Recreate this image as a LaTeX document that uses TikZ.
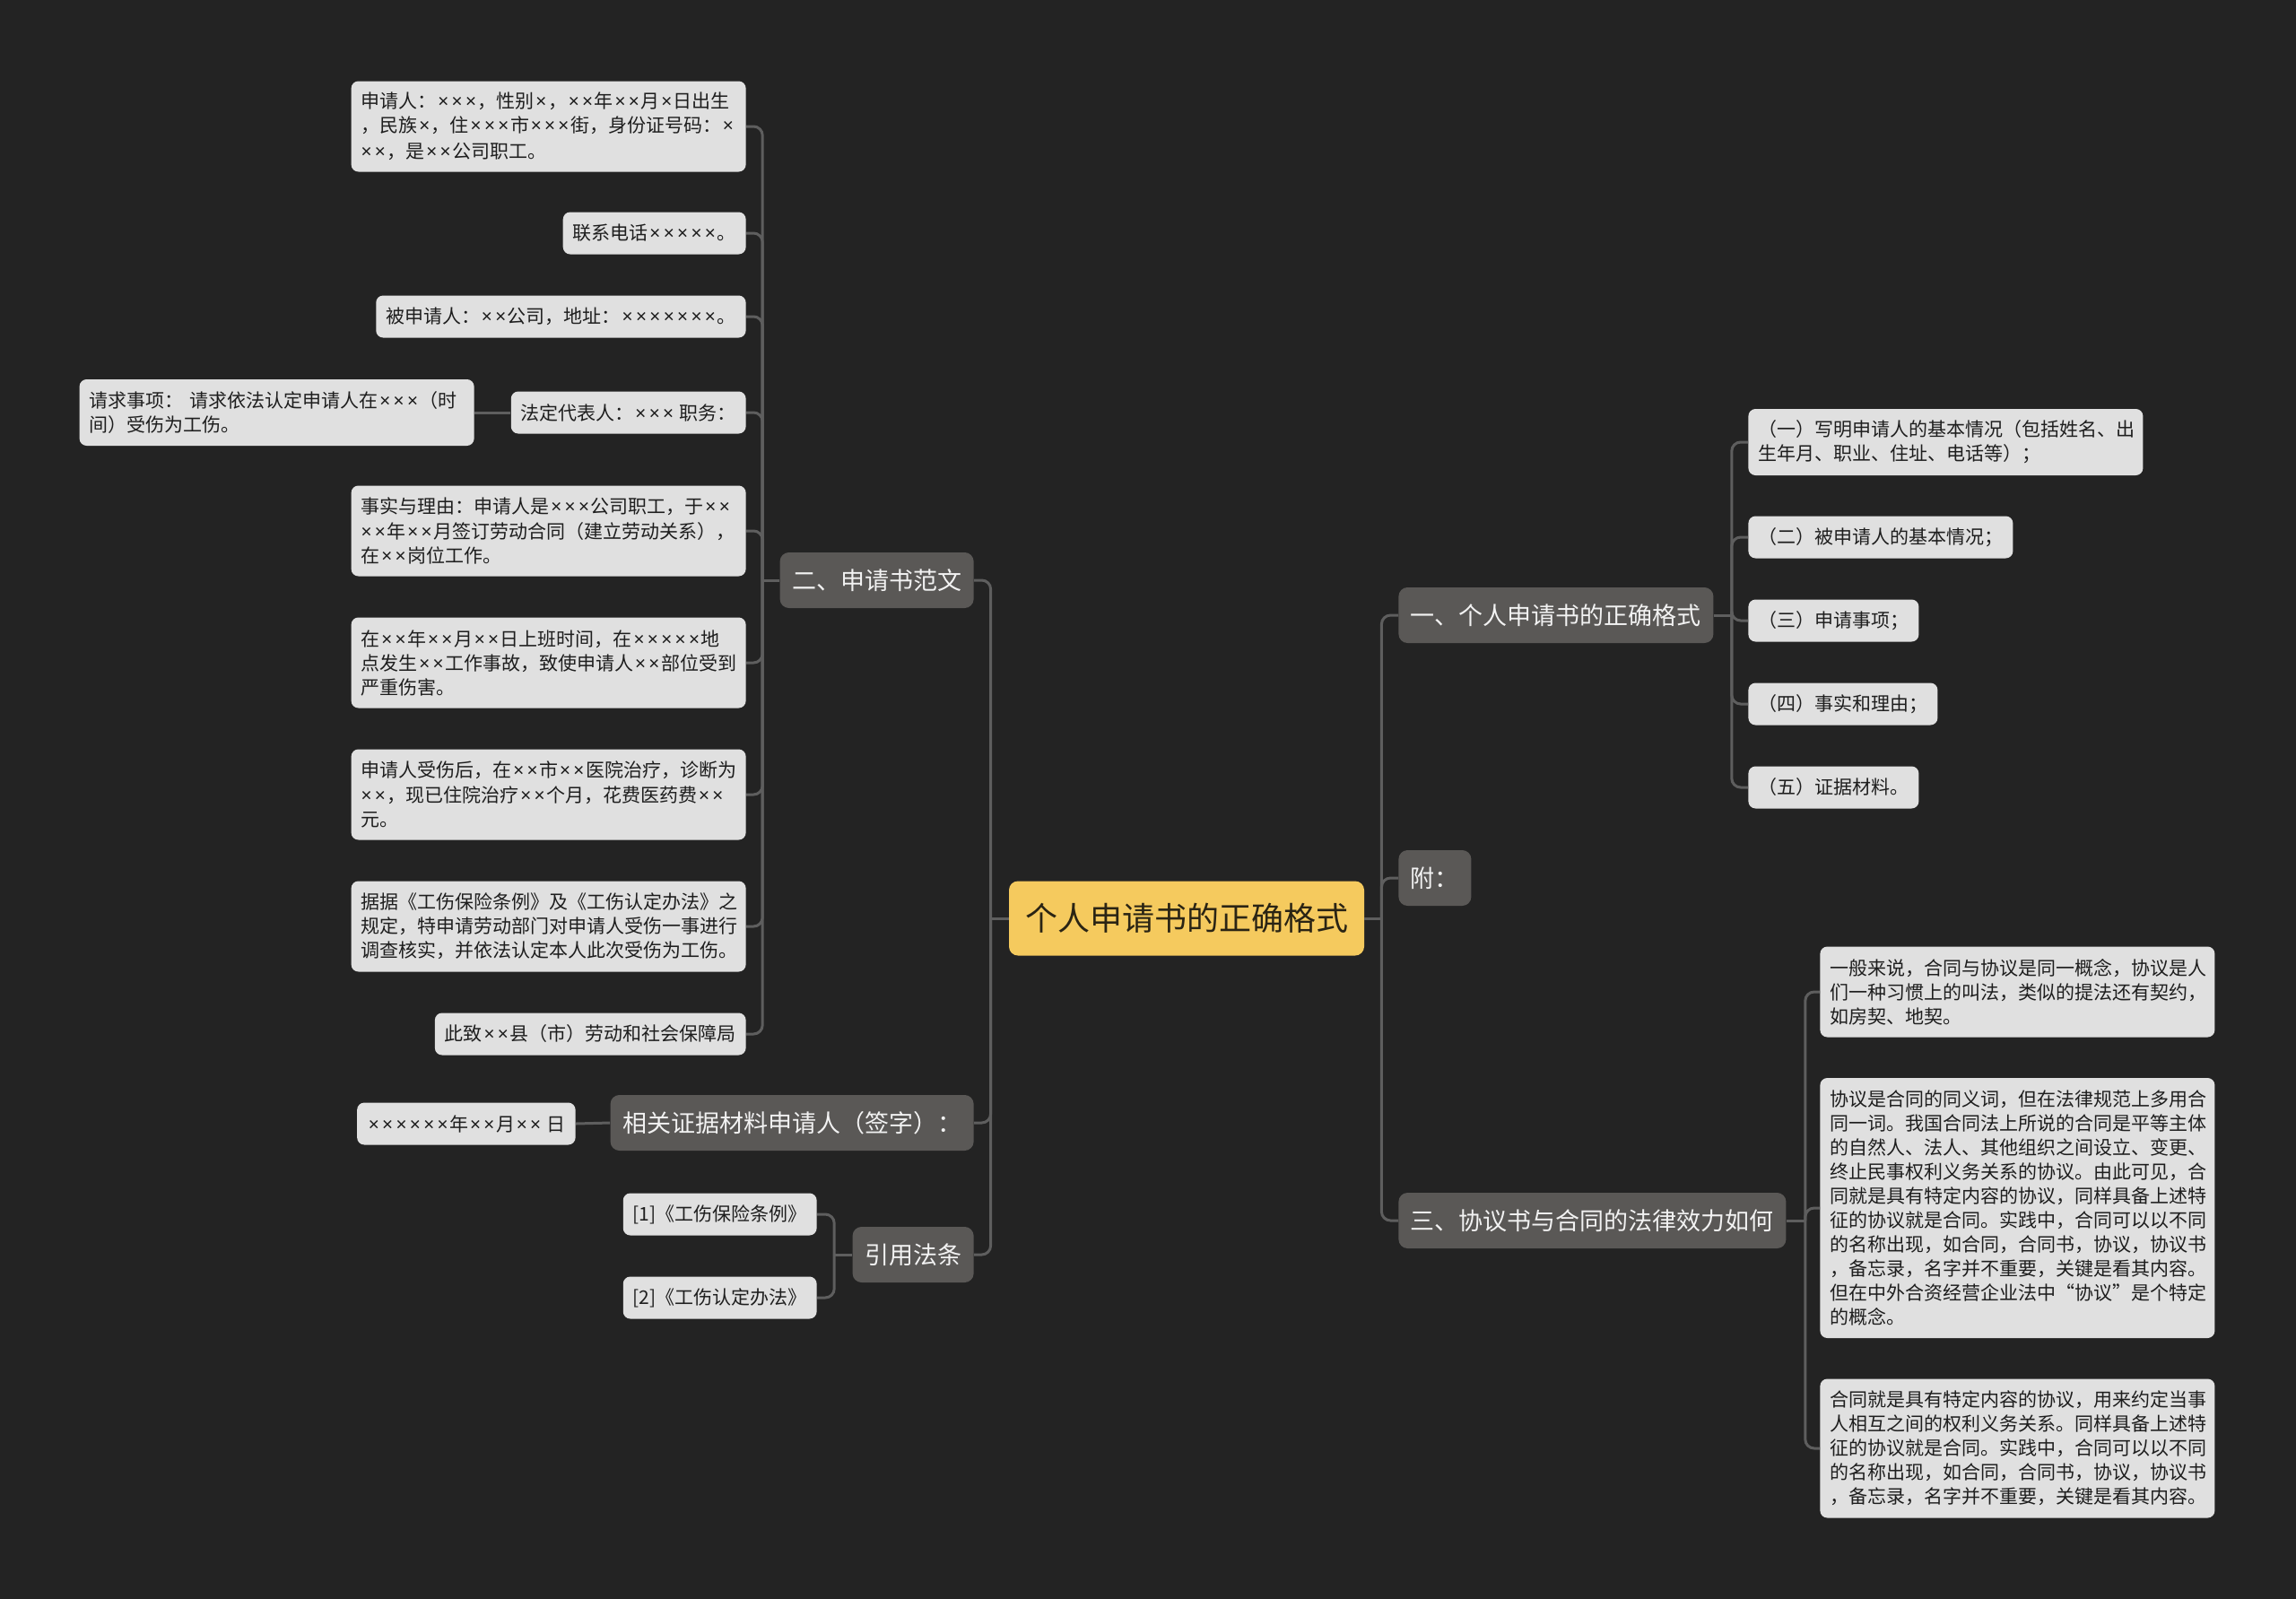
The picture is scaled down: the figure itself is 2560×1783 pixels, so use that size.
\documentclass[tikz,border=0pt]{standalone}
\usepackage{fontspec}
\setmainfont{Noto Sans CJK SC}
\newfontfamily\xfont{Noto Sans}
% narrow multiplication sign, as in the original
\catcode`\×=\active
\def×{{\xfont\kern.08em\char"00D7\kern.08em}}
\usepackage{tikz}
\usetikzlibrary{positioning}
\definecolor{bgdark}{HTML}{232323}
\definecolor{rootyel}{HTML}{F5CA5E}
\definecolor{roottxt}{HTML}{2A2414}
\definecolor{brgray}{HTML}{5A5856}
\definecolor{brtxt}{HTML}{F2F2F2}
\definecolor{leafgr}{HTML}{E0E0E0}
\definecolor{leaftxt}{HTML}{1E1E1E}
\definecolor{edgc}{HTML}{5E5E5E}
\tikzset{
  rootbox/.style = {fill=rootyel, text=roottxt, rounded corners=5pt,
                    minimum height=41.5pt, inner xsep=9pt,
                    font=\fontsize{18}{22}\selectfont},
  brbox/.style   = {fill=brgray, text=brtxt, rounded corners=5pt,
                    minimum height=31pt, inner xsep=6.75pt,
                    font=\fontsize{13.5}{16}\selectfont},
  leafbox/.style = {fill=leafgr, text=leaftxt, rounded corners=4pt,
                    minimum height=23.5pt, inner xsep=5.5pt, inner ysep=3pt,
                    font=\fontsize{10.5}{13.5}\selectfont},
  leafw/.style   = {leafbox, text width=209pt, align=left,
                    minimum height={23.5pt+(#1-1)*13.5pt}},
  edg/.style     = {draw=edgc, line width=1.5pt, rounded corners=5pt},
}

\begin{document}
\begin{tikzpicture}[x=0.5pt, y=-0.5pt]
  \fill[bgdark] (0,0) rectangle (2560,1783);
  \node[rootbox] (root) at (1323,1024) {个人申请书的正确格式};

  % left side
  \node[brbox, anchor=east] (s2)  at (1086,647)  {二、申请书范文};
  \node[brbox, anchor=east] (sig) at (1086,1252) {相关证据材料申请人（签字）：};
  \node[brbox, anchor=east] (law) at (1086,1399) {引用法条};

  \node[leafw=3, anchor=east] (p1) at (832,141)
    {申请人：×××，性别×，××年××月×日出生\\，民族×，住×××市×××街，身份证号码：×\\××，是××公司职工。};
  \node[leafbox, anchor=east] (p2) at (832,260) {联系电话×××××。};
  \node[leafbox, anchor=east] (p3) at (832,353) {被申请人：××公司，地址：×××××××。};
  \node[leafbox, anchor=east] (p4) at (832,460) {法定代表人：××× 职务：};
  \node[leafw=2, anchor=east] (p4x) at (529,460)
    {请求事项：~请求依法认定申请人在×××（时\\间）受伤为工伤。};
  \node[leafw=3, anchor=east] (p5) at (832,592)
    {事实与理由：申请人是×××公司职工，于××\\××年××月签订劳动合同（建立劳动关系），\\在××岗位工作。};
  \node[leafw=3, anchor=east] (p6) at (832,739)
    {在××年××月××日上班时间，在×××××地\\点发生××工作事故，致使申请人××部位受到\\严重伤害。};
  \node[leafw=3, anchor=east] (p7) at (832,886)
    {申请人受伤后，在××市××医院治疗，诊断为\\××，现已住院治疗××个月，花费医药费××\\元。};
  \node[leafw=3, anchor=east] (p8) at (832,1033)
    {据据《工伤保险条例》及《工伤认定办法》之\\规定，特申请劳动部门对申请人受伤一事进行\\调查核实，并依法认定本人此次受伤为工伤。};
  \node[leafbox, anchor=east] (p9) at (832,1153) {此致××县（市）劳动和社会保障局};

  \node[leafbox, anchor=east] (sigd) at (642,1253) {××××××年××月×× 日};
  \node[leafbox, anchor=east] (law1) at (911,1354) {[1]《工伤保险条例》};
  \node[leafbox, anchor=east] (law2) at (911,1447) {[2]《工伤认定办法》};

  % right side
  \node[brbox, anchor=west] (s1) at (1559,686)  {一、个人申请书的正确格式};
  \node[brbox, anchor=west] (fu) at (1559,979)  {附：};
  \node[brbox, anchor=west] (s3) at (1559,1361) {三、协议书与合同的法律效力如何};

  \node[leafw=2, anchor=west] (f1) at (1949,493)
    {（一）写明申请人的基本情况（包括姓名、出\\生年月、职业、住址、电话等）；};
  \node[leafbox, anchor=west] (f2) at (1949,599) {（二）被申请人的基本情况；};
  \node[leafbox, anchor=west] (f3) at (1949,692) {（三）申请事项；};
  \node[leafbox, anchor=west] (f4) at (1949,785) {（四）事实和理由；};
  \node[leafbox, anchor=west] (f5) at (1949,878) {（五）证据材料。};

  \node[leafw=3, anchor=west] (h1) at (2029,1106)
    {一般来说，合同与协议是同一概念，协议是人\\们一种习惯上的叫法，类似的提法还有契约，\\如房契、地契。};
  \node[leafw=10, anchor=west] (h2) at (2029,1347)
    {协议是合同的同义词，但在法律规范上多用合\\同一词。我国合同法上所说的合同是平等主体\\的自然人、法人、其他组织之间设立、变更、\\终止民事权利义务关系的协议。由此可见，合\\同就是具有特定内容的协议，同样具备上述特\\征的协议就是合同。实践中，合同可以以不同\\的名称出现，如合同，合同书，协议，协议书\\，备忘录，名字并不重要，关键是看其内容。\\但在中外合资经营企业法中“协议”是个特定\\的概念。};
  \node[leafw=5, anchor=west] (h3) at (2029,1615)
    {合同就是具有特定内容的协议，用来约定当事\\人相互之间的权利义务关系。同样具备上述特\\征的协议就是合同。实践中，合同可以以不同\\的名称出现，如合同，合同书，协议，协议书\\，备忘录，名字并不重要，关键是看其内容。};

  % connectors
  \draw[edg] (root.west) -- ++(-20,0) coordinate (jl);
  \foreach \n in {s2,sig,law} \draw[edg] (jl) |- (\n.east);
  \draw[edg] (root.east) -- ++(19,0) coordinate (jr);
  \foreach \n in {s1,fu,s3} \draw[edg] (jr) |- (\n.west);

  \draw[edg] (s2.west) -- ++(-19,0) coordinate (j2);
  \foreach \i in {1,...,9} \draw[edg] (j2) |- (p\i.east);
  \draw[edg] (p4.west) -- (p4x.east);
  \draw[edg] (sig.west) -- (sigd.east);
  \draw[edg] (law.west) -- ++(-20,0) coordinate (jw);
  \foreach \i in {1,2} \draw[edg] (jw) |- (law\i.east);

  \draw[edg] (s1.east) -- ++(20,0) coordinate (j1);
  \foreach \i in {1,...,5} \draw[edg] (j1) |- (f\i.west);
  \draw[edg] (s3.east) -- ++(21,0) coordinate (j3);
  \foreach \i in {1,2,3} \draw[edg] (j3) |- (h\i.west);
\end{tikzpicture}
\end{document}
